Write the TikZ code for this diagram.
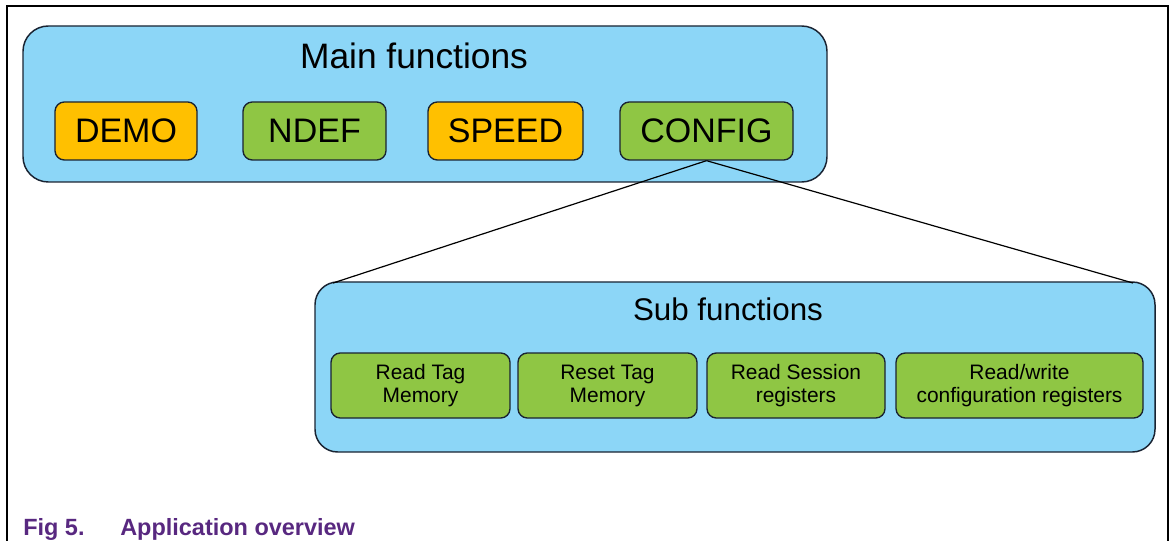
\documentclass[tikz,border=0pt]{standalone}
\usepackage{fontspec}
\setmainfont{Liberation Sans}
\definecolor{bluefill}{RGB}{140,214,247}
\definecolor{orangefill}{RGB}{255,192,0}
\definecolor{greenfill}{RGB}{143,198,68}
\definecolor{edgecol}{RGB}{25,35,50}
\definecolor{capcol}{RGB}{88,40,128}
\tikzset{
  panel/.style={draw=edgecol, line width=1.1pt, fill=bluefill, rounded corners=19pt, inner sep=0pt},
  mainfn/.style={draw=edgecol, line width=1pt, rounded corners=7pt, inner sep=0pt, minimum height=43.5pt,
    font=\fontsize{25.5}{30}\selectfont},
  subfn/.style={draw=edgecol, line width=1pt, fill=greenfill, rounded corners=7pt, inner sep=0pt,
    minimum height=48.75pt, align=center, font=\fontsize{15.7}{17.25}\selectfont},
  link/.style={draw=black, line width=0.9pt},
  frameline/.style={draw=black, line width=1.6pt},
  captext/.style={anchor=base west, text=capcol, font=\bfseries\fontsize{17.6}{21}\selectfont, inner sep=0pt}
}
\begin{document}
\begin{tikzpicture}[x=0.75pt, y=-0.75pt]
\useasboundingbox (0,0) rectangle (1173,541);
% frame (open at the bottom)
\draw[frameline] (7,541) -- (7,6) -- (1168,6) -- (1168,541);
% main panel
\node[panel, minimum width=603pt, minimum height=117pt] (main) at (425,104) {};
\node[font=\fontsize{26.5}{30}\selectfont] (maintitle) at (414,56) {Main functions};
\node[mainfn, fill=orangefill, minimum width=106.5pt] (demo) at (126,131) {DEMO};
\node[mainfn, fill=greenfill, minimum width=107.25pt] (ndef) at (314.5,131) {NDEF};
\node[mainfn, fill=orangefill, minimum width=116.25pt] (speed) at (505.5,131) {SPEED};
\node[mainfn, fill=greenfill, minimum width=129.75pt] (config) at (706.5,131) {CONFIG};
% sub panel
\node[panel, rounded corners=17pt, minimum width=630pt, minimum height=127.5pt] (sub) at (735,367) {};
\coordinate (subL) at (333,283);
\coordinate (subR) at (1133,283);
\draw[link] (config.south) -- (subL);
\draw[link] (config.south) -- (subR);
\node[font=\fontsize{23.5}{28}\selectfont] (subtitle) at (728,309) {Sub functions};
\node[subfn, minimum width=134.25pt] (rtm) at (420.5,385.5) {Read Tag\\Memory};
\node[subfn, minimum width=134.25pt] (rstm) at (607.5,385.5) {Reset Tag\\Memory};
\node[subfn, minimum width=133.5pt] (rsr) at (796,385.5) {Read Session\\registers};
\node[subfn, minimum width=185.25pt] (rwc) at (1019.5,385.5) {Read/write\\configuration registers};
% caption
\node[captext] (figno) at (23,535) {Fig 5.};
\node[captext] (figcap) at (120,535) {Application overview};
\end{tikzpicture}
\end{document}
